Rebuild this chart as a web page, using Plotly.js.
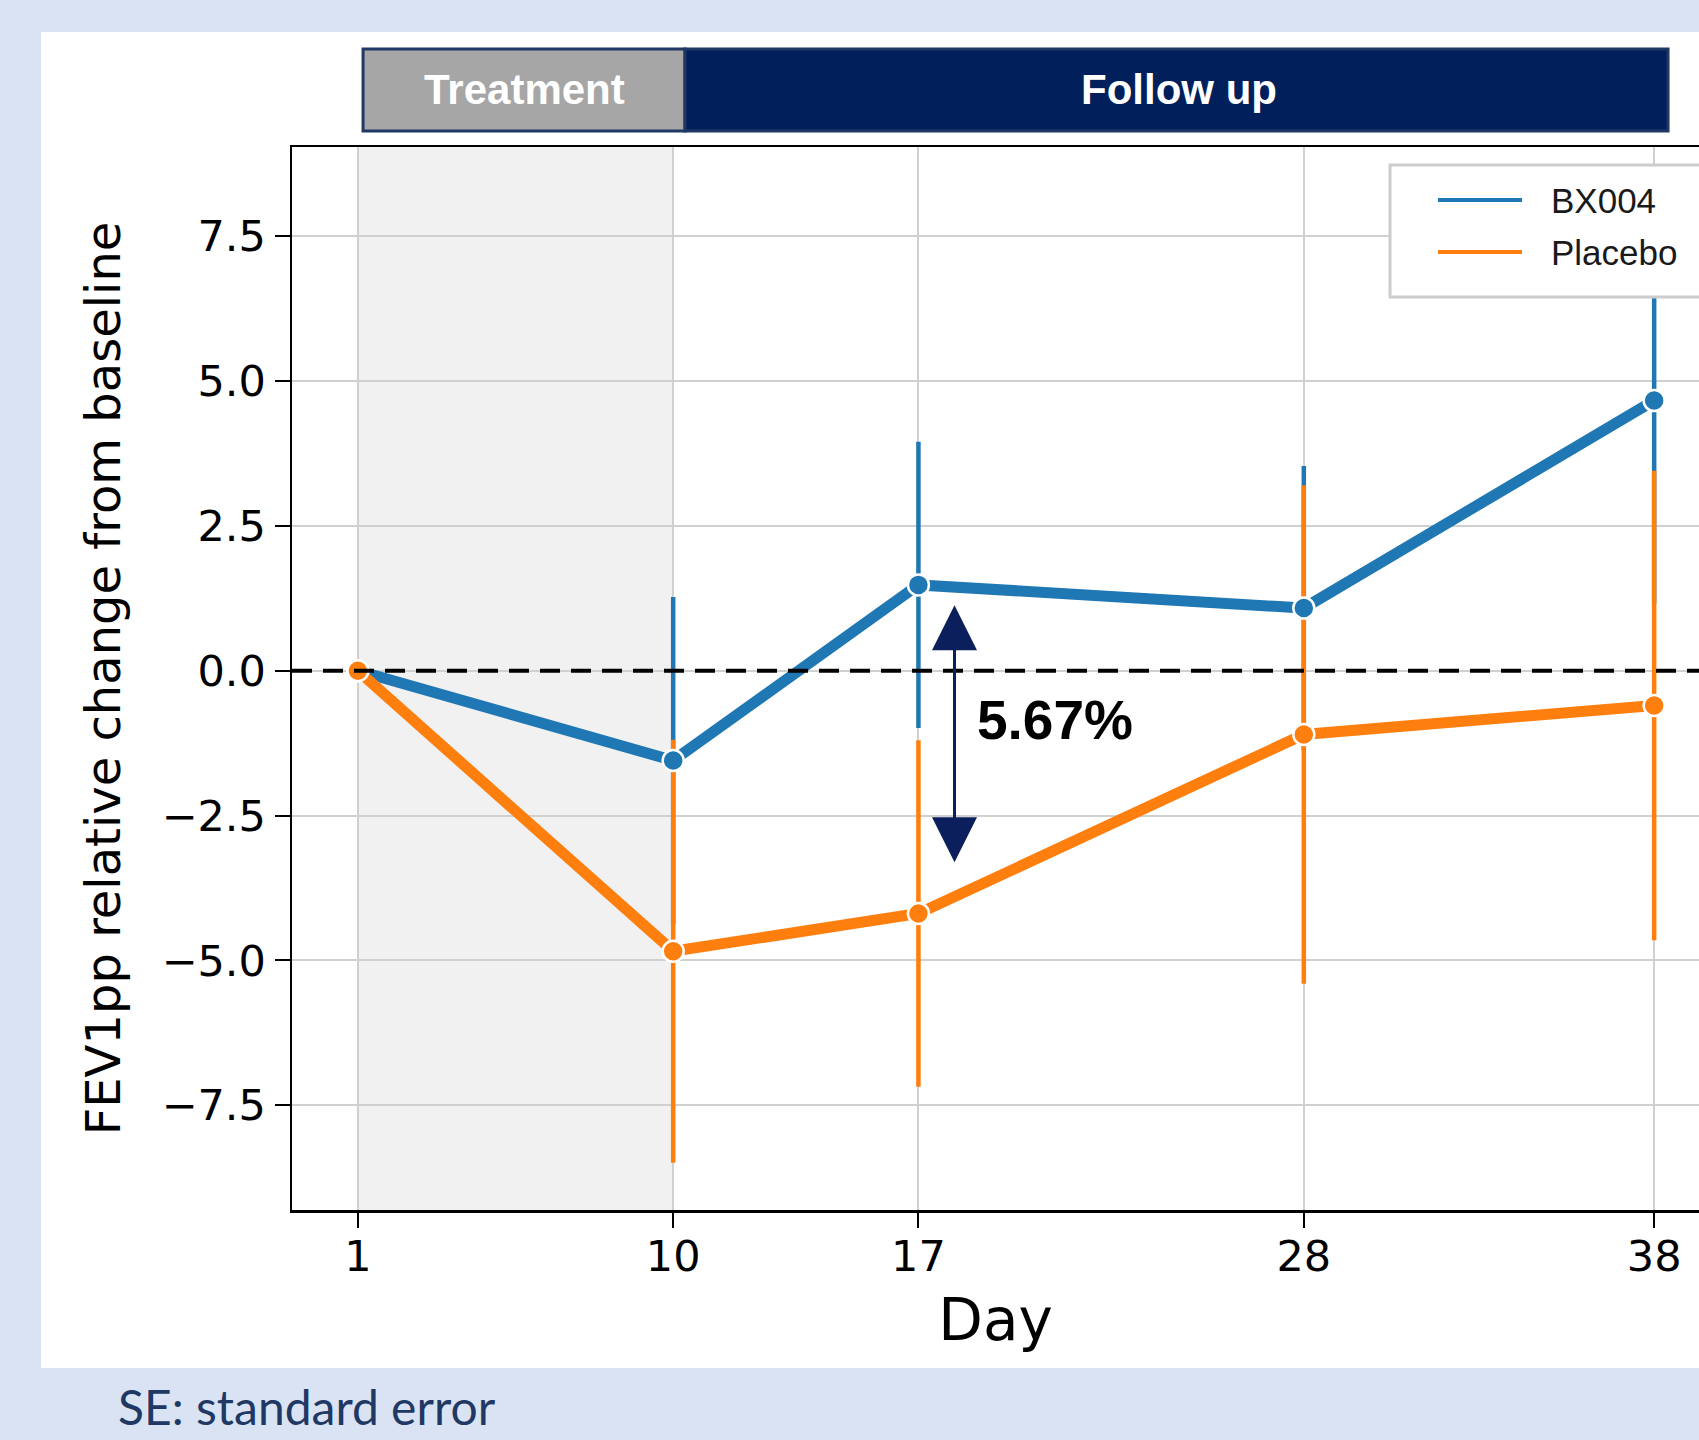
<!DOCTYPE html>
<html>
<head>
<meta charset="utf-8">
<script src="https://cdn.plot.ly/plotly-3.0.1.min.js"></script>
<style>
  html, body { margin: 0; padding: 0; background: #dae3f3; }
  #chart { width: 1699px; height: 1440px; }
</style>
</head>
<body>
<div id="chart"></div>
<script>
// ---- data ----
const days = [1, 10, 17, 28, 38];
const tickLabels = ['1', '10', '17', '28', '38'];
const seriesNames = ['BX004', 'Placebo'];
const bx004Mean = [0, -1.55, 1.48, 1.08, 4.66];
const bx004SE = [0, 2.82, 2.47, 2.45, 3.50];
const placeboMean = [0, -4.84, -4.19, -1.10, -0.60];
const placeboSE = [0, 3.65, 2.99, 4.30, 4.05];
const phaseLabels = ['Treatment', 'Follow up'];
const treatmentDays = [1, 10];
const arrowDay = 18.03;
const arrowRange = [1.13, -3.33];
const footnote = 'SE: standard error';

const blue = '#1f77b4';
const orange = '#ff7f0e';
const navy = '#0b1f5c';

function errTrace(y, se, color) {
  return {
    x: days, y: y, type: 'scatter', mode: 'markers',
    marker: {size: 1, color: 'rgba(0,0,0,0)'},
    error_y: {type: 'data', array: se, visible: true, color: color, thickness: 4.5, width: 0},
    showlegend: false, hoverinfo: 'skip'
  };
}
function lineTrace(y, color, name) {
  return {
    x: days, y: y, type: 'scatter', mode: 'lines+markers', name: name,
    line: {color: color, width: 11},
    marker: {size: 21, color: color, line: {color: 'white', width: 2.5}},
    showlegend: false
  };
}

const traces = [
  errTrace(bx004Mean, bx004SE, blue),
  errTrace(placeboMean, placeboSE, orange),
  lineTrace(bx004Mean, blue, seriesNames[0]),
  lineTrace(placeboMean, orange, seriesNames[1])
];

const diff = (bx004Mean[2] - placeboMean[2]).toFixed(2) + '%';

const legY = [0.9501, 0.9012];
const legColors = [blue, orange];

const shapes = [
  // white panel
  {type: 'rect', xref: 'paper', yref: 'paper', x0: -0.1784, x1: 1.02, y0: -0.1486, y1: 1.1082,
   fillcolor: 'white', line: {width: 0}, layer: 'below'},
  // treatment shading
  {type: 'rect', xref: 'x', yref: 'paper', x0: treatmentDays[0], x1: treatmentDays[1], y0: 0, y1: 1,
   fillcolor: '#f1f1f1', line: {width: 0}, layer: 'below'},
  // header boxes
  {type: 'rect', xref: 'paper', yref: 'paper', x0: 0.0505, x1: 0.2793, y0: 1.0151, y1: 1.0922,
   fillcolor: '#a6a6a6', line: {color: '#1f3864', width: 3}},
  {type: 'rect', xref: 'paper', yref: 'paper', x0: 0.2793, x1: 0.978, y0: 1.0151, y1: 1.0922,
   fillcolor: '#001f5b', line: {color: '#1f3864', width: 3}},
  // zero reference line
  {type: 'line', xref: 'paper', yref: 'y', x0: 0, x1: 1, y0: 0, y1: 0,
   line: {color: 'black', width: 4, dash: '20px,11px'}, layer: 'above'},
  // legend box
  {type: 'rect', xref: 'paper', yref: 'paper', x0: 0.7804, x1: 1.02, y0: 0.8589, y1: 0.9831,
   fillcolor: 'white', line: {color: '#cccccc', width: 3}, layer: 'above'}
];
seriesNames.forEach((n, i) => {
  shapes.push({type: 'line', xref: 'paper', yref: 'paper', x0: 0.8145, x1: 0.8742, y0: legY[i], y1: legY[i],
    line: {color: legColors[i], width: 4}, layer: 'above'});
});

const annotations = [
  {text: phaseLabels[0], xref: 'paper', yref: 'paper', x: 0.1649, y: 1.0537, xanchor: 'center', yanchor: 'middle',
   showarrow: false, font: {family: 'Liberation Sans, Arial, sans-serif', size: 42, color: 'white', weight: 'bold'}},
  {text: phaseLabels[1], xref: 'paper', yref: 'paper', x: 0.6305, y: 1.0537, xanchor: 'center', yanchor: 'middle',
   showarrow: false, font: {family: 'Liberation Sans, Arial, sans-serif', size: 42, color: 'white', weight: 'bold'}},
  {text: '', x: arrowDay, y: arrowRange[0], ax: arrowDay, ay: arrowRange[1], axref: 'x', ayref: 'y',
   xref: 'x', yref: 'y', showarrow: true, arrowside: 'end+start', arrowhead: 2, startarrowhead: 2,
   arrowsize: 3.0, startarrowsize: 3.0, arrowwidth: 3, arrowcolor: navy, standoff: 0, startstandoff: 0},
  {text: '<b>' + diff + '</b>', x: 18.62, y: -0.85, xref: 'x', yref: 'y', xanchor: 'left', yanchor: 'middle',
   showarrow: false, font: {family: 'Liberation Sans, Arial, sans-serif', size: 55, color: 'black'}},
  {text: footnote, xref: 'paper', yref: 'paper', x: -0.1252, y: -0.1844, xanchor: 'left', yanchor: 'middle',
   showarrow: false, font: {family: 'Lato, sans-serif', size: 48, color: '#1f3864'}}
];
seriesNames.forEach((n, i) => {
  annotations.push({text: n, xref: 'paper', yref: 'paper', x: 0.8934, y: legY[i], xanchor: 'left', yanchor: 'middle',
    showarrow: false, font: {family: 'Liberation Sans, Arial, sans-serif', size: 35, color: '#1a1a1a'}});
});

const layout = {
  width: 1699, height: 1440,
  margin: {l: 292, r: 0, t: 147, b: 230, pad: 0},
  paper_bgcolor: '#dae3f3',
  plot_bgcolor: 'rgba(0,0,0,0)',
  showlegend: false,
  font: {family: 'DejaVu Sans, sans-serif', color: 'black'},
  xaxis: {
    range: [-0.88, 39.28], tickmode: 'array', tickvals: days, ticktext: tickLabels,
    showgrid: true, gridcolor: '#d0d0d0', gridwidth: 2,
    showline: true, linecolor: 'black', linewidth: 2.5, mirror: true,
    ticks: 'outside', ticklen: 15, tickwidth: 2, tickcolor: 'black',
    ticklabelstandoff: -8,
    tickfont: {size: 43, family: 'DejaVu Sans, sans-serif', color: 'black'},
    zeroline: false,
    title: {text: 'Day', font: {size: 58, family: 'DejaVu Sans, sans-serif', color: 'black'}, standoff: 20}
  },
  yaxis: {
    range: [-9.305, 9.035], tick0: 0, dtick: 2.5, tickformat: '.1f',
    showgrid: true, gridcolor: '#d0d0d0', gridwidth: 2,
    showline: true, linecolor: 'black', linewidth: 2.5, mirror: false,
    ticks: 'outside', ticklen: 15, tickwidth: 2, tickcolor: 'black',
    tickfont: {size: 43, family: 'DejaVu Sans, sans-serif', color: 'black'},
    zeroline: false,
    title: {text: 'FEV1pp relative change from baseline', font: {size: 48, family: 'DejaVu Sans, sans-serif', color: 'black'}, standoff: 26}
  },
  shapes: shapes,
  annotations: annotations
};

Plotly.newPlot('chart', traces, layout, {displayModeBar: false, staticPlot: true});
</script>
</body>
</html>
